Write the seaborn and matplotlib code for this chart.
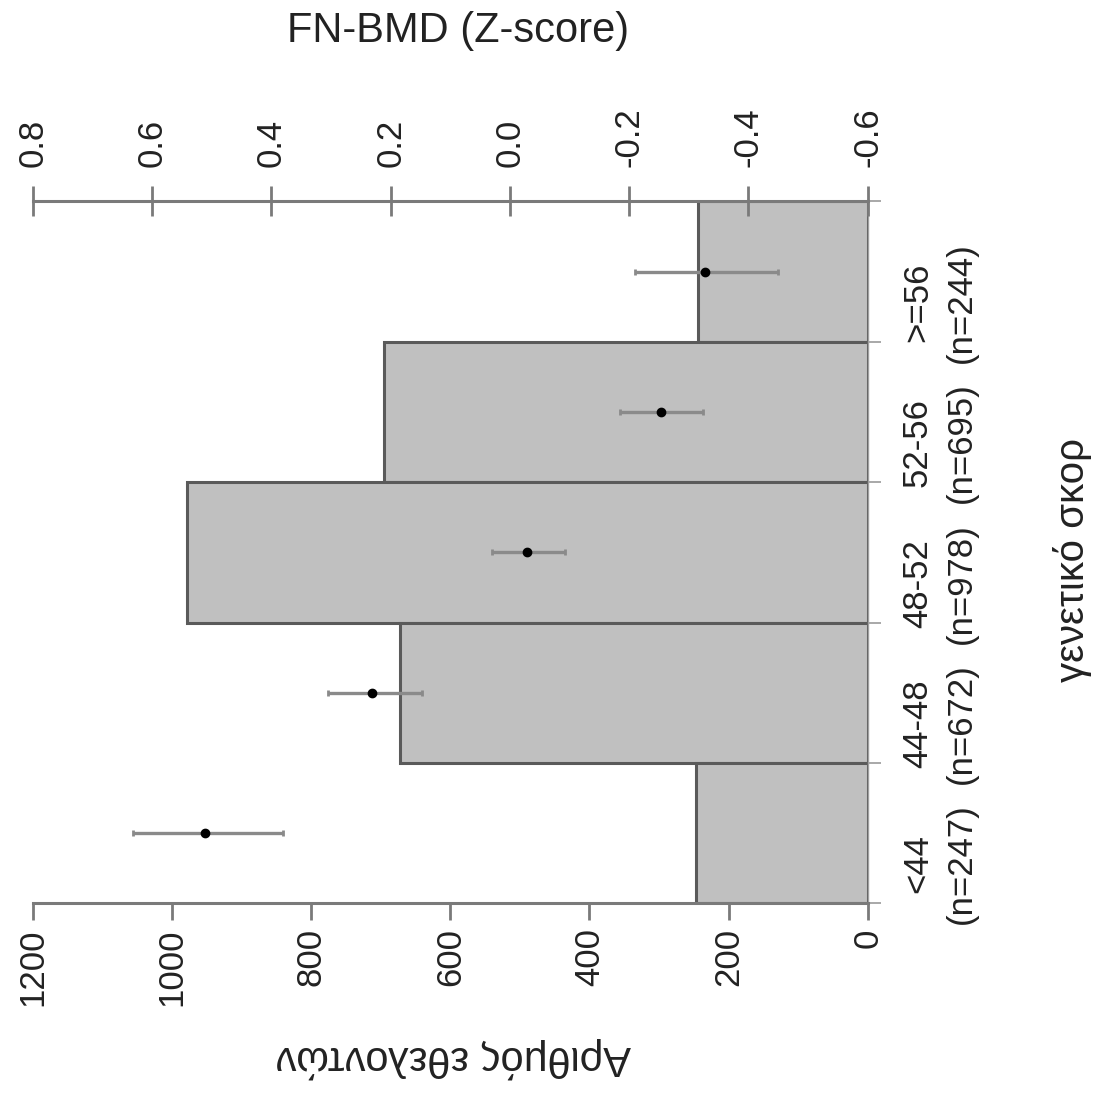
import numpy as np
import pandas as pd
import matplotlib
matplotlib.use("Agg")
import matplotlib.pyplot as plt
import seaborn as sns

# Genetic score groups (bottom to top) and number of volunteers per group
groups = ["<44", "44-48", "48-52", "52-56", ">=56"]
counts = [247, 672, 978, 695, 244]

# FN-BMD Z-score per group: mean with lower / upper interval limits
z_mean = [0.511, 0.231, -0.029, -0.253, -0.327]
z_low = [0.381, 0.148, -0.092, -0.324, -0.449]
z_high = [0.632, 0.305, 0.030, -0.184, -0.210]

count_ticks = [0, 200, 400, 600, 800, 1000, 1200]
z_ticks = [0.8, 0.6, 0.4, 0.2, 0.0, -0.2, -0.4, -0.6]

sns.set_theme(style="white")
plt.rcParams["font.family"] = ["Liberation Sans", "DejaVu Sans"]
plt.rcParams["axes.unicode_minus"] = False

axis_grey = "#7a7a7a"
text_col = "#222222"
df = pd.DataFrame({"group": groups, "count": counts})
order = groups[::-1]          # first entry is drawn at the top
pos = {g: i for i, g in enumerate(order)}

fig = plt.figure(figsize=(10.97, 10.95), dpi=100)
ax = fig.add_axes([0.030, 0.175, 0.761, 0.641])

sns.barplot(data=df, x="count", y="group", order=order, orient="h",
            width=1.0, color="#c0c0c0", saturation=1,
            edgecolor="#5a5a5a", linewidth=2.2, ax=ax)

ax.set_xlim(1200, 0)
ax.set_ylim(len(order) - 0.5, -0.5)

# count axis (bottom)
ax.set_xticks(count_ticks)
ax.set_xticklabels([str(v) for v in count_ticks])
ax.tick_params(axis="x", direction="out", length=12, width=2, color=axis_grey,
               pad=6, labelsize=25, labelrotation=90, bottom=True, top=False,
               labelcolor=text_col)
ax.set_xlabel("")
ax.set_ylabel("")

# category axis (right)
ax.yaxis.tick_right()
ax.set_yticks(range(len(order)))
ax.set_yticklabels([f"{g}\n(n={counts[groups.index(g)]})" for g in order])
ax.set_yticks(np.arange(-0.5, len(order), 1.0), minor=True)
ax.tick_params(axis="y", which="major", length=0, pad=24, labelsize=25,
               labelrotation=90, labelcolor=text_col, left=False, right=True)
ax.tick_params(axis="y", which="minor", length=9, width=1.2, color="#9a9a9a",
               direction="out", left=False, right=True)
for lbl in ax.get_yticklabels():
    lbl.set_multialignment("center")
    lbl.set_linespacing(1.4)

for side in ["top", "left"]:
    ax.spines[side].set_visible(False)
ax.spines["bottom"].set_color(axis_grey)
ax.spines["bottom"].set_linewidth(2.2)
ax.spines["right"].set_color("#a0a0a0")
ax.spines["right"].set_linewidth(1.0)

# Z-score axis (top) with means and intervals
ax2 = ax.twiny()
ax2.set_xlim(0.8, -0.6)
ypos = [pos[g] for g in groups]
xerr = [np.array(z_mean) - np.array(z_low), np.array(z_high) - np.array(z_mean)]
ax2.errorbar(z_mean, ypos, xerr=xerr, fmt="o", color="black", ms=6,
             ecolor="#8a8a8a", elinewidth=2.4, capsize=2, capthick=2, zorder=5)
ax2.set_xticks(z_ticks)
ax2.set_xticklabels([f"{v:.1f}" for v in z_ticks])
ax2.tick_params(axis="x", direction="inout", length=22, width=2, color=axis_grey,
                pad=14, labelsize=25, labelrotation=90, labelcolor=text_col)
for side in ["bottom", "left", "right"]:
    ax2.spines[side].set_visible(False)
ax2.spines["top"].set_color(axis_grey)
ax2.spines["top"].set_linewidth(2.2)

fig.text(458 / 1097, 1 - 31 / 1095, "FN-BMD (Z-score)", ha="center",
         va="center", fontsize=30, color=text_col)
fig.text(453 / 1097, 1 - 1058 / 1095, "Αριθμός εθελοντών", ha="center",
         va="center", fontsize=30, rotation=180, color=text_col)
fig.text(1073 / 1097, 1 - 560 / 1095, "γενετικό σκορ", ha="center",
         va="center", fontsize=29, rotation=90, color=text_col)

fig.savefig("out.png", dpi=100, facecolor="white")
